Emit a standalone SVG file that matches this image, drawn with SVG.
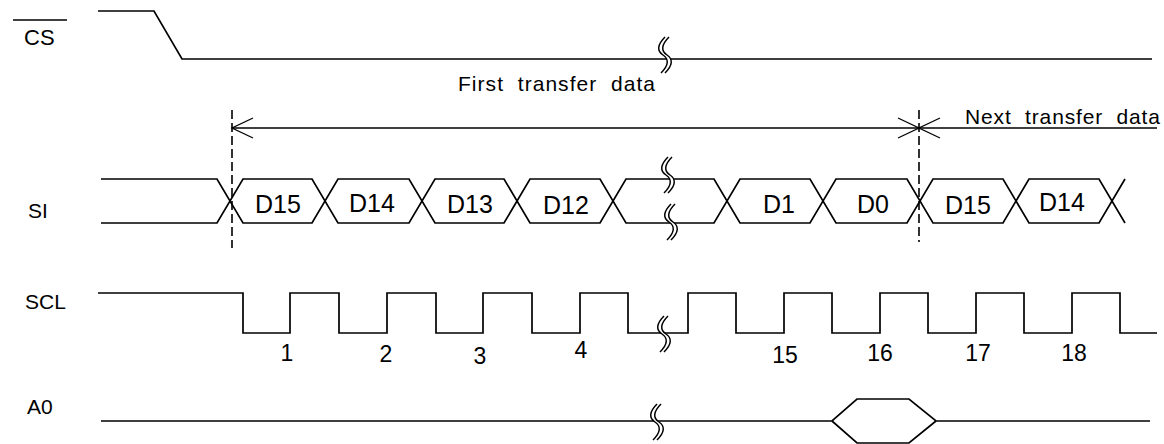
<svg xmlns="http://www.w3.org/2000/svg" width="1164" height="444" viewBox="0 0 1164 444">
<style>
.w{fill:none;stroke:#000;stroke-width:1.7;stroke-linejoin:miter}
.t{font-family:"Liberation Sans",Arial,sans-serif;fill:#000}
.lbl{font-size:21px}
.d{font-size:25px;text-anchor:middle}
.n{font-size:23px;text-anchor:middle}
.dash{fill:none;stroke:#000;stroke-width:1.6;stroke-dasharray:9,4}
.dim{fill:none;stroke:#000;stroke-width:1.3}
</style>
<defs>
<marker id="ah" markerUnits="userSpaceOnUse" markerWidth="24" markerHeight="24" viewBox="-22 -12 24 24" refX="0" refY="0" orient="auto-start-reverse">
<path d="M-21,-10 L0,0 L-21,10" fill="none" stroke="#000" stroke-width="1.3"/>
</marker>
<g id="brk">
<path d="M2,-18 C-6,-10 -6,-4 0,0 C6,4 6,10 -2,18 L2,18 C10,10 10,4 4,0 C-2,-4 -2,-10 6,-18 Z" fill="#fff" stroke="none"/>
<path d="M2,-18 C-6,-10 -6,-4 0,0 C6,4 6,10 -2,18" fill="none" stroke="#000" stroke-width="1.5"/>
<path d="M6,-18 C-2,-10 -2,-4 4,0 C10,4 10,10 2,18" fill="none" stroke="#000" stroke-width="1.5"/>
</g>
</defs>
<rect width="1164" height="444" fill="#fff"/>

<g id="cs">
<text class="t lbl" x="24" y="45" style="font-size:22px">CS</text>
<line x1="13" y1="20" x2="67" y2="20" stroke="#000" stroke-width="1.6"/>
<path class="w" d="M98,11 H154 L182,59 H1152"/>
<use href="#brk" x="663" y="55"/>
</g>

<g id="si">
<text class="t lbl" x="28" y="218">SI</text>
<path class="w" d="M101,179 H217 L243,223 H312 L338,179 H409 L435,223 H504 L530,179 H600 L626,223 H714 L740,179 H810 L836,223 H907 L933,179 H1003 L1029,223 H1099 L1125,179"/>
<path class="w" d="M101,223 H217 L243,179 H312 L338,223 H409 L435,179 H504 L530,223 H600 L626,179 H714 L740,223 H810 L836,179 H907 L933,223 H1003 L1029,179 H1099 L1125,223"/>
<use href="#brk" x="666" y="175"/>
<use href="#brk" x="669" y="222"/>
<text class="t d" x="278" y="213">D15</text>
<text class="t d" x="372" y="212">D14</text>
<text class="t d" x="470" y="213">D13</text>
<text class="t d" x="566" y="214">D12</text>
<text class="t d" x="779" y="213">D1</text>
<text class="t d" x="873" y="213">D0</text>
<text class="t d" x="968" y="214">D15</text>
<text class="t d" x="1062" y="211">D14</text>
</g>

<g id="scl">
<text class="t lbl" x="25" y="309">SCL</text>
<path class="w" d="M98,293 H243 V333 H290 V293 H339 V333 H387 V293 H436 V333 H483 V293 H532 V333 H580 V293 H628 V333 H688 V293 H736 V333 H784 V293 H832 V333 H880 V293 H928 V333 H976 V293 H1024 V333 H1072 V293 H1120 V333 H1157"/>
<use href="#brk" x="662" y="334"/>
<text class="t n" x="287" y="361">1</text>
<text class="t n" x="386" y="362">2</text>
<text class="t n" x="480" y="364">3</text>
<text class="t n" x="581" y="358">4</text>
<text class="t n" x="785" y="363">15</text>
<text class="t n" x="880" y="361">16</text>
<text class="t n" x="978" y="361">17</text>
<text class="t n" x="1074" y="361">18</text>
</g>

<g id="a0">
<text class="t lbl" x="27" y="414">A0</text>
<path class="w" d="M101,421 H832 L857,399 H909 L936,421 H1150"/>
<path class="w" d="M832,421 L857,443 H909 L936,421"/>
<use href="#brk" x="655" y="422"/>
</g>

<g id="connectors">
<line class="dash" x1="232" y1="110" x2="232" y2="248"/>
<line class="dash" x1="919" y1="110" x2="919" y2="242"/>
<line class="dim" x1="232" y1="128" x2="919" y2="128" marker-start="url(#ah)" marker-end="url(#ah)"/>
<line class="dim" x1="919" y1="128" x2="1157" y2="128" marker-start="url(#ah)"/>
<text class="t" x="458" y="91" style="font-size:21px" textLength="197" lengthAdjust="spacing" xml:space="preserve">First  transfer  data</text>
<text class="t" x="965" y="124" style="font-size:21px" textLength="195" lengthAdjust="spacing" xml:space="preserve">Next  transfer  data</text>
</g>
</svg>
